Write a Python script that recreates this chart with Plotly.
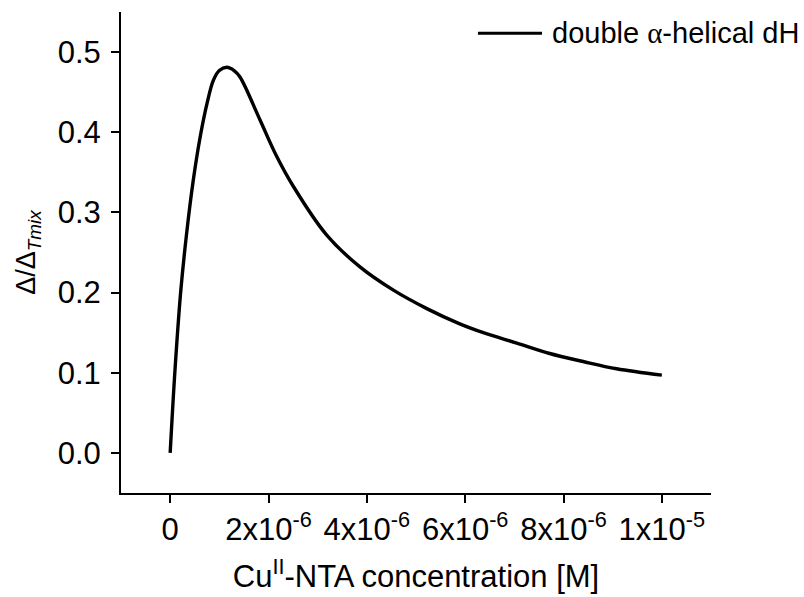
import plotly.graph_objects as go

# Data (x in µM -> M, y dimensionless)
conc_uM = [0.0, 0.1, 0.217, 0.339, 0.47, 0.61, 0.75, 0.88, 1.0, 1.15, 1.3, 1.42,
           1.83, 2.15, 2.51, 3.18, 3.86, 4.54, 5.22, 5.89, 6.37, 7.05, 7.72,
           8.4, 9.08, 10.0]
ratio = [0.0, 0.105, 0.203, 0.276, 0.340, 0.394, 0.436, 0.465, 0.477, 0.481, 0.477,
         0.469, 0.415, 0.372, 0.332, 0.272, 0.232, 0.203, 0.180, 0.161, 0.150,
         0.137, 0.124, 0.114, 0.105, 0.097]
conc = [v * 1e-6 for v in conc_uM]

series_name = "double <span style='font-family:Liberation Serif'>α</span>-helical dH"

x_tickvals = [0, 2e-6, 4e-6, 6e-6, 8e-6, 1e-5]
x_ticktext = ["0", "2x10<sup>-6</sup>", "4x10<sup>-6</sup>", "6x10<sup>-6</sup>",
              "8x10<sup>-6</sup>", "1x10<sup>-5</sup>"]
y_tickvals = [0.0, 0.1, 0.2, 0.3, 0.4, 0.5]
y_ticktext = ["0.0", "0.1", "0.2", "0.3", "0.4", "0.5"]

FONT = "Liberation Sans, Arial, sans-serif"

fig = go.Figure()
fig.add_trace(go.Scatter(
    x=conc, y=ratio, mode="lines",
    line=dict(color="black", width=3.4, shape="spline", smoothing=1.0),
    showlegend=False, name="double α-helical dH",
))

# custom legend (sample line + label)
fig.add_shape(type="line", xref="paper", yref="paper",
              x0=0.605, x1=0.7136, y0=0.956, y1=0.956,
              line=dict(color="black", width=3))
fig.add_annotation(xref="paper", yref="paper", x=0.727, y=0.956,
                   xanchor="left", yanchor="middle", showarrow=False,
                   text=series_name, font=dict(family=FONT, size=29, color="black"))

fig.update_layout(
    width=804, height=597,
    margin=dict(l=121, r=93, t=12, b=104),
    paper_bgcolor="white", plot_bgcolor="white",
    font=dict(family=FONT, size=31, color="black"),
    xaxis=dict(
        range=[-1e-6, 1.1e-5], automargin=False,
        tickvals=x_tickvals, ticktext=x_ticktext,
        showline=True, linecolor="black", linewidth=2,
        ticks="outside", ticklen=8, tickwidth=2, tickcolor="black",
        showgrid=False, zeroline=False,
        tickfont=dict(size=31),
        title=dict(text="Cu<sup>II</sup>-NTA concentration [M]",
                   font=dict(size=31), standoff=19),
    ),
    yaxis=dict(
        range=[-0.05, 0.55], automargin=False,
        tickvals=y_tickvals, ticktext=y_ticktext,
        showline=True, linecolor="black", linewidth=2,
        ticks="outside", ticklen=8, tickwidth=2, tickcolor="black",
        showgrid=False, zeroline=False,
        tickfont=dict(size=31), ticklabelstandoff=4,
        title=dict(text="Δ/Δ<sub><i>Tmix</i></sub>", font=dict(size=27), standoff=14),
    ),
)

fig.write_html("out.html")
